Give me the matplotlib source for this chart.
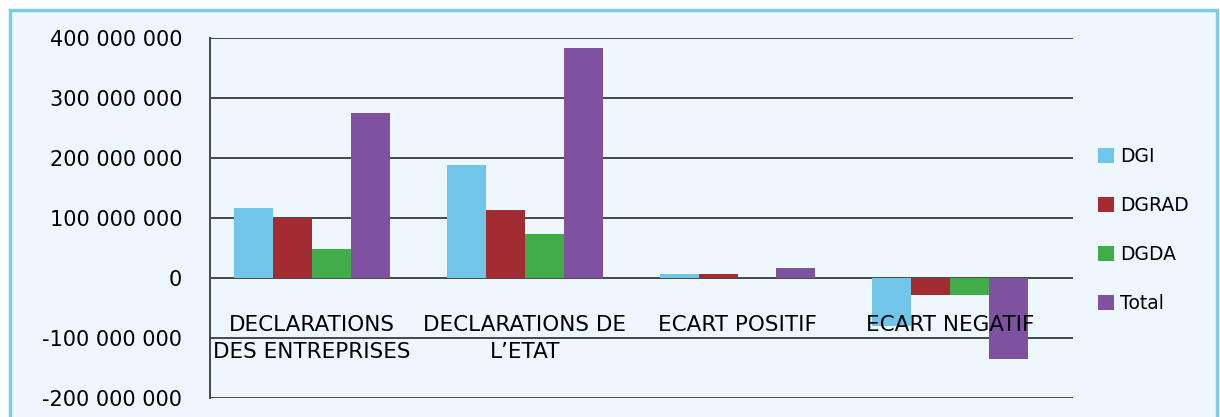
import matplotlib
matplotlib.use("Agg")
import matplotlib.pyplot as plt
import numpy as np
from matplotlib.patches import Rectangle
from matplotlib.ticker import FuncFormatter

# ---- data -------------------------------------------------------------------
categories = ["DECLARATIONS\nDES ENTREPRISES", "DECLARATIONS DE\nL\u2019ETAT",
              "ECART POSITIF", "ECART NEGATIF"]
series = ["DGI", "DGRAD", "DGDA", "Total"]
dgi = [116e6, 188e6, 6e6, -80e6]
dgrad = [100e6, 113e6, 6e6, -28e6]
dgda = [48e6, 73e6, 0, -28e6]
total = [275e6, 383e6, 17e6, -135e6]
yticks = [-200e6, -100e6, 0, 100e6, 200e6, 300e6, 400e6]

colors = ["#71C6E8", "#A22C32", "#42AC4A", "#7E52A0"]
BG = "#EDF7FD"

fig = plt.figure(figsize=(12.2, 4.17), dpi=100)
fig.patch.set_facecolor("white")
frame = Rectangle((10 / 1220, -0.05), 1207 / 1220, 1 - 10 / 417 + 0.05,
                  transform=fig.transFigure, facecolor=BG,
                  edgecolor="#7FCCEA", linewidth=2.5, zorder=-10)
fig.patches.append(frame)

ax = fig.add_axes([210 / 1220, 1 - 398 / 417, 863 / 1220, 360 / 417])
ax.set_zorder(1)
ax.set_facecolor(BG)

x = np.arange(len(categories))
w = 0.183
for i, (name, vals) in enumerate(zip(series, [dgi, dgrad, dgda, total])):
    ax.bar(x + (i - 1.5) * w, vals, width=w, color=colors[i], label=name, zorder=3)

ax.set_xlim(-0.48, 3.577)
ax.set_ylim(-200e6, 400e6)
ax.set_yticks(yticks)
ax.yaxis.set_major_formatter(FuncFormatter(lambda v, p: f"{int(v):,}".replace(",", " ")))
ax.tick_params(axis="y", length=0, pad=20, labelsize=15)
ax.set_xticks([])
ax.grid(axis="y", color="#3a3a3a", linewidth=1.3, zorder=1)
for s in ["top", "right", "bottom"]:
    ax.spines[s].set_visible(False)
ax.spines["left"].set_color("#3a3a3a")
ax.spines["left"].set_linewidth(1.3)

for xi, lab in zip(x, categories):
    ax.text(xi, -61e6, lab, ha="center", va="top", fontsize=15.5,
            linespacing=1.45, zorder=5)

leg = fig.legend(loc="center left", bbox_to_anchor=(1081 / 1220, 1 - 230 / 417),
                 frameon=False, fontsize=13.5, handlelength=0.85, handleheight=0.85,
                 handletextpad=0.35, labelspacing=1.6)

fig.savefig("out.png", dpi=100, facecolor=fig.get_facecolor())
